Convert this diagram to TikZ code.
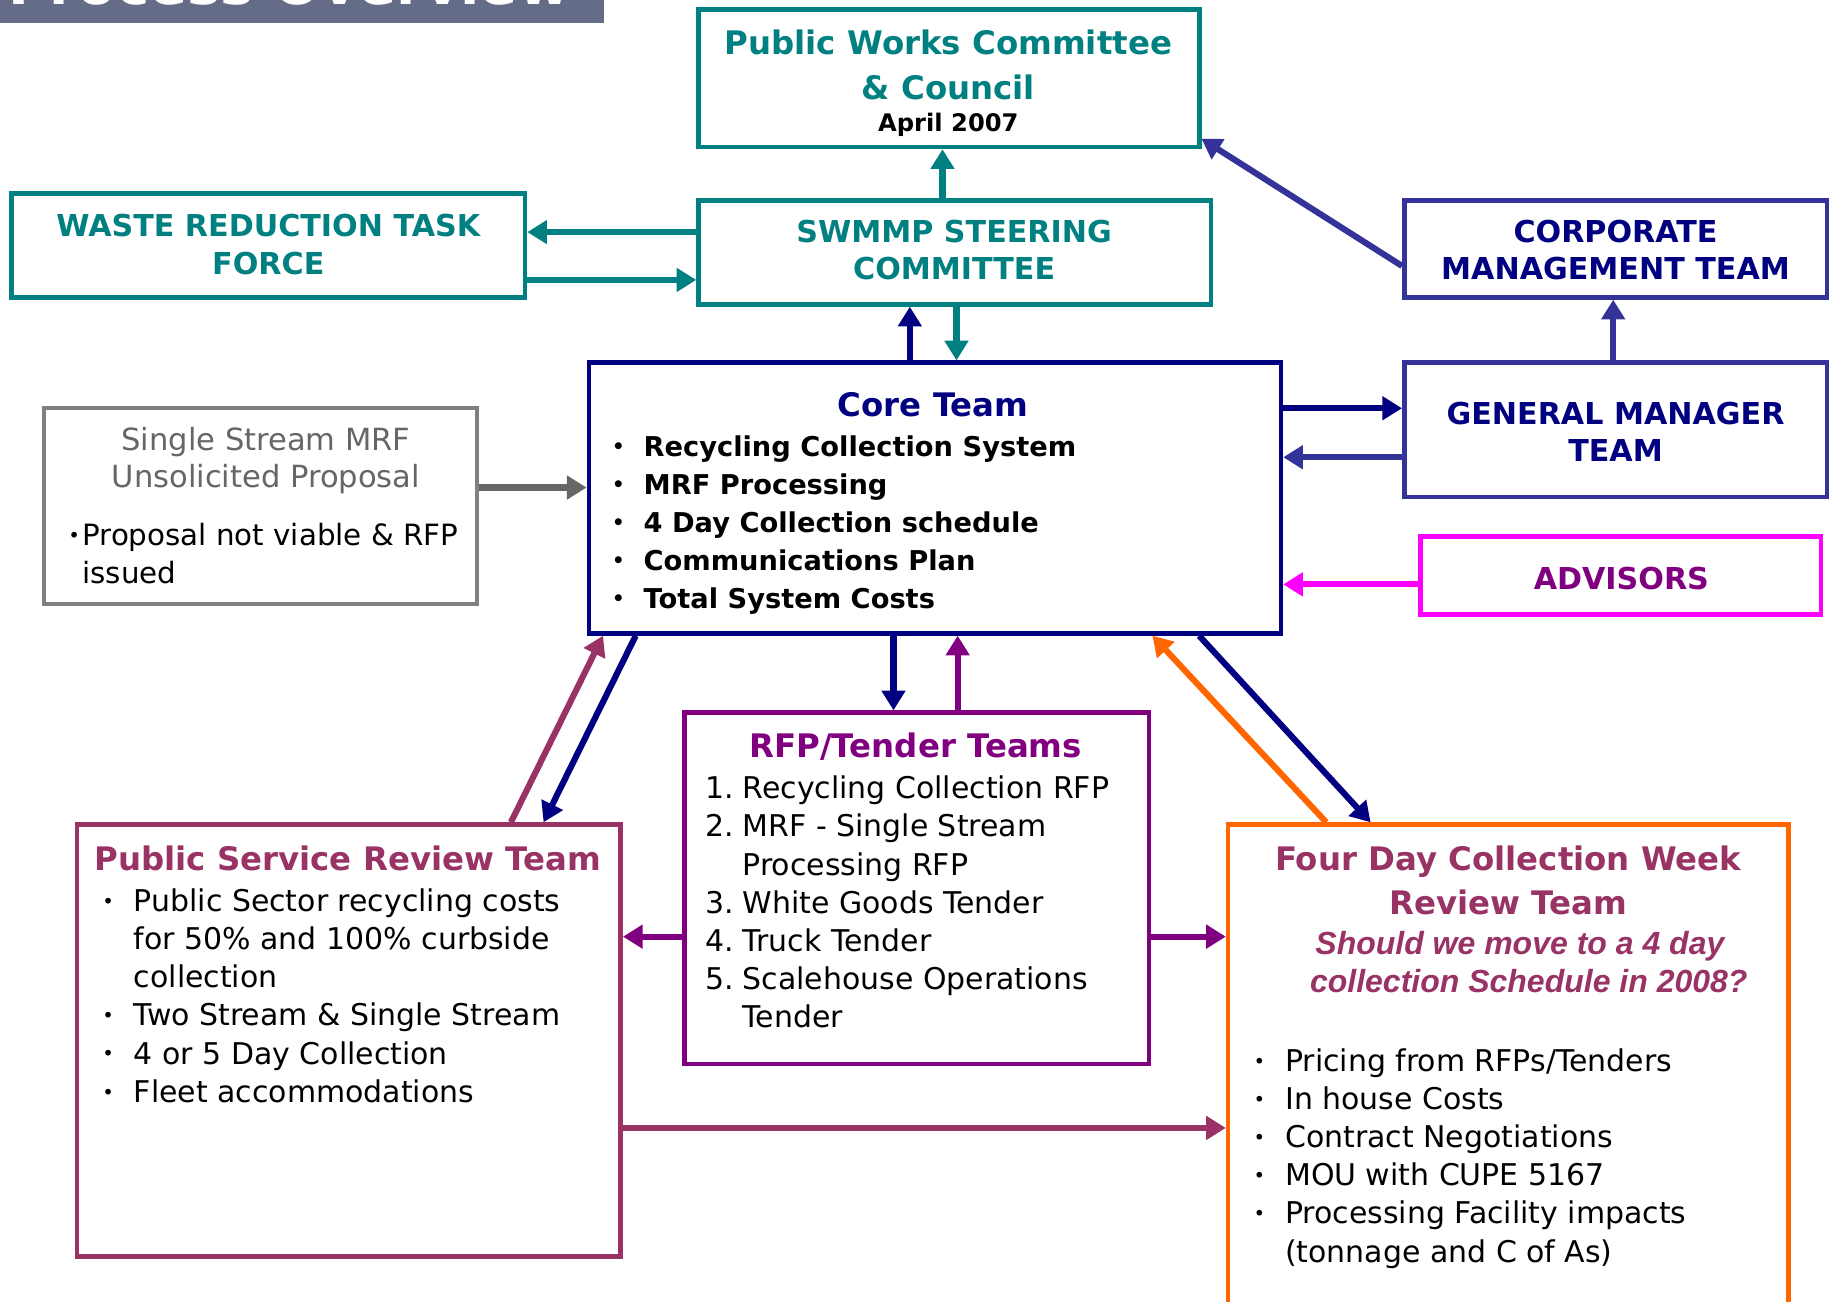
\documentclass[tikz,border=0pt]{standalone}
\usepackage{fontspec}
\setmainfont{DejaVu Sans}
\newfontfamily\arialfont{Liberation Sans}
\usetikzlibrary{arrows.meta}

\definecolor{swteal}{RGB}{0,128,128}
\definecolor{swnavy}{RGB}{0,0,128}
\definecolor{swblue}{RGB}{51,51,153}
\definecolor{swpink}{RGB}{255,0,255}
\definecolor{swpurple}{RGB}{128,0,128}
\definecolor{swplum}{RGB}{153,51,102}
\definecolor{sworange}{RGB}{255,102,0}
\definecolor{swgray}{RGB}{128,128,128}
\definecolor{swdgray}{RGB}{102,102,102}
\definecolor{swbar}{RGB}{100,108,136}

\newcommand\ttlfont{\fontsize{7.9}{10.8}\selectfont\bfseries}
\newcommand\capfont{\fontsize{7.35}{9.1}\selectfont\bfseries}
\newcommand\itemfont{\fontsize{7.3}{9.3}\selectfont}
\newcommand\bolditemfont{\fontsize{6.65}{9.3}\selectfont\bfseries}
\newcommand\smalldot{\raisebox{0.8pt}{\fontsize{4.8}{5}\selectfont\textbullet}}
\newcommand\bul{\makebox[7.7pt][l]{\smalldot}}
\newcommand\nmb[1]{\makebox[9.1pt][l]{#1}}

\begin{document}
\begin{tikzpicture}[x=0.01cm, y=-0.01cm,
                    box/.style={draw=#1, line width=1.1pt, inner sep=0pt},
                    lbl/.style={inner sep=0pt, anchor=base},
                    arr/.style={draw=#1, line width=1.5pt,
                                -{Triangle[length=4.8pt,width=5.6pt]}}]
  \useasboundingbox (0,0) rectangle (1568,1116);

  % title bar, cut at the top
  \fill[swbar] (0,0) rectangle (518,20);
  \begin{scope}
    \clip (0,0) rectangle (518,20);
    \node[lbl, text=white, font=\fontsize{13.7}{16}\selectfont\bfseries] (bar) at (248,4) {Process Overview};
  \end{scope}

  % boxes
  \node[box=swteal, minimum width=4.29cm, minimum height=1.18cm] (pw) at (813.5,67) {};
  \node[box=swteal, minimum width=4.39cm, minimum height=0.89cm] (swmmp) at (818.5,216.5) {};
  \node[box=swteal, minimum width=4.40cm, minimum height=0.89cm] (wrtf) at (230,210.5) {};
  \node[box=swblue, minimum width=3.62cm, minimum height=0.83cm] (cmt) at (1385,213.5) {};
  \node[box=swblue, minimum width=3.62cm, minimum height=1.15cm] (gmt) at (1385,368.5) {};
  \node[box=swpink, minimum width=3.43cm, minimum height=0.67cm] (adv) at (1389.5,493.5) {};
  \node[box=swnavy, minimum width=5.93cm, minimum height=2.32cm] (core) at (801.5,427) {};
  \node[box=swgray, line width=0.9pt, minimum width=3.71cm, minimum height=1.68cm] (ssm) at (223.5,434) {};
  \node[box=swpurple, minimum width=3.98cm, minimum height=3.01cm] (rfp) at (786,761.5) {};
  \node[box=swplum, minimum width=4.66cm, minimum height=3.70cm] (psrt) at (299,892) {};
  \node[box=sworange, minimum width=4.80cm, minimum height=4.23cm] (fdc) at (1293,918.5) {};

  % texts (base of a multi-line text = its last line)
  \node[lbl, text=swteal, font=\ttlfont, align=center] (pwt) at (813,85) {Public Works Committee\\\& Council};
  \node[lbl, font=\fontsize{5.9}{8}\selectfont\bfseries] (pwd) at (813,113) {April 2007};
  \node[lbl, text=swteal, font=\capfont, align=center] (swt) at (818,240) {SWMMP STEERING\\COMMITTEE};
  \node[lbl, text=swteal, font=\capfont, align=center] (wrt) at (230,235) {WASTE REDUCTION TASK\\FORCE};
  \node[lbl, text=swnavy, font=\capfont, align=center] (cmtt) at (1385,240) {CORPORATE\\MANAGEMENT TEAM};
  \node[lbl, text=swnavy, font=\capfont, align=center] (gmtt) at (1385,396) {GENERAL MANAGER\\TEAM};
  \node[lbl, text=swpurple, font=\capfont] (advt) at (1390,505) {ADVISORS};

  \node[lbl, text=swnavy, font=\ttlfont] (coret) at (800,357) {Core Team};
  \node[lbl, anchor=base west, font=\bolditemfont, align=left] (corel) at (524,522)
    {\bul Recycling Collection System\\\bul MRF Processing\\\bul 4 Day Collection schedule\\
     \bul Communications Plan\\\bul Total System Costs};

  \node[lbl, text=swdgray, font=\fontsize{7.45}{9.1}\selectfont, align=center] (ssmt) at (228,418)
    {Single Stream MRF\\Unsolicited Proposal};
  \node[lbl, anchor=base west, font=\fontsize{7.15}{9.1}\selectfont, align=left] (ssml) at (58,500)
    {\makebox[3.4pt][l]{\smalldot}Proposal not viable \& RFP\\\hspace*{3.4pt}issued};

  \node[lbl, text=swpurple, font=\ttlfont] (rfpt) at (785,649) {RFP/Tender Teams};
  \node[lbl, anchor=base west, font=\itemfont, align=left] (rfpl) at (604,881)
    {\nmb{1.}Recycling Collection RFP\\\nmb{2.}MRF - Single Stream\\\nmb{}Processing RFP\\
     \nmb{3.}White Goods Tender\\\nmb{4.}Truck Tender\\\nmb{5.}Scalehouse Operations\\\nmb{}Tender};

  \node[lbl, text=swplum, font=\ttlfont] (psrtt) at (298,746) {Public Service Review Team};
  \node[lbl, anchor=base west, font=\itemfont, align=left] (psrtl) at (87,945)
    {\bul Public Sector recycling costs\\\hspace*{7.7pt}for 50\% and 100\% curbside\\
     \hspace*{7.7pt}collection\\\bul Two Stream \& Single Stream\\\bul 4 or 5 Day Collection\\
     \bul Fleet accommodations};

  \node[lbl, text=swplum, font=\ttlfont, align=center] (fdct) at (1293,784) {Four Day Collection Week\\Review Team};
  \node[lbl, text=swplum, font=\fontsize{7.8}{9.4}\selectfont\arialfont\bfseries\itshape, align=center] (fdcq) at (1303,851)
    {Should we move to a 4 day\\\ \ collection Schedule in 2008?};
  \node[lbl, anchor=base west, font=\itemfont, align=left] (fdcl) at (1074,1082)
    {\bul Pricing from RFPs/Tenders\\\bul In house Costs\\\bul Contract Negotiations\\
     \bul MOU with CUPE 5167\\\bul Processing Facility impacts\\\hspace*{7.7pt}(tonnage and C of As)};

  % connectors
  \draw[arr=swteal] (swmmp.north -| 808,0) -- (pw.south -| 808,0);
  \draw[arr=swteal] (swmmp.west |- 0,199) -- (wrtf.east |- 0,199);
  \draw[arr=swteal] (wrtf.east |- 0,240) -- (swmmp.west |- 0,240);
  \draw[arr=swteal] (swmmp.south -| 820,0) -- (core.north -| 820,0);
  \draw[arr=swnavy] (core.north -| 780,0) -- (swmmp.south -| 780,0);
  \draw[arr=swblue] (cmt.west |- 0,228) -- (pw.east |- 0,119);
  \draw[arr=swblue] (gmt.north -| 1383,0) -- (cmt.south -| 1383,0);
  \draw[arr=swnavy] (core.east |- 0,350) -- (gmt.west |- 0,350);
  \draw[arr=swblue] (gmt.west |- 0,392) -- (core.east |- 0,392);
  \draw[arr=swpink] (adv.west |- 0,501) -- (core.east |- 0,501);
  \draw[arr=swdgray] (ssm.east |- 0,418) -- (core.west |- 0,418);
  \draw[arr=swnavy] (core.south -| 766,0) -- (rfp.north -| 766,0);
  \draw[arr=swpurple] (rfp.north -| 821,0) -- (core.south -| 821,0);
  \draw[arr=swplum] (psrt.north -| 438,0) -- (core.south -| 517,0);
  \draw[arr=swnavy] (core.south -| 545,0) -- (psrt.north -| 466,0);
  \draw[arr=swpurple] (rfp.west |- 0,803) -- (psrt.east |- 0,803);
  \draw[arr=swpurple] (rfp.east |- 0,803) -- (fdc.west |- 0,803);
  \draw[arr=swplum] (psrt.east |- 0,967) -- (fdc.west |- 0,967);
  \draw[arr=sworange] (fdc.north -| 1137,0) -- (core.south -| 988,0);
  \draw[arr=swnavy] (core.south -| 1028,0) -- (fdc.north -| 1175,0);
\end{tikzpicture}
\end{document}
